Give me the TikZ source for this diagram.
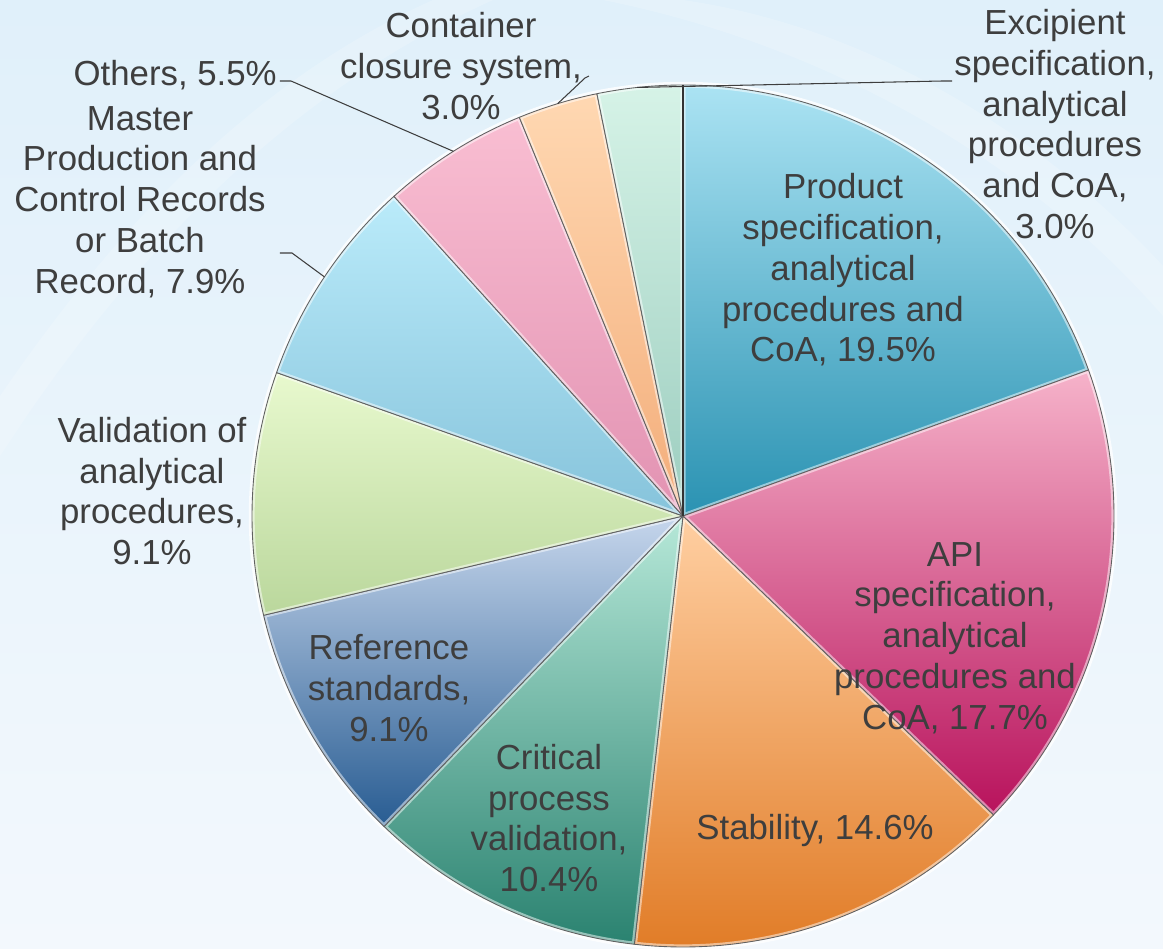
\documentclass[tikz,border=0pt]{standalone}
\usepackage{fontspec}
\setmainfont{Liberation Sans}
\definecolor{txt}{HTML}{3E3E3E}
\definecolor{bgtop}{HTML}{E0F0FA}
\definecolor{bgmid}{HTML}{DDEEFA}
\definecolor{bgbot}{HTML}{F3F8FD}
\definecolor{prodT}{HTML}{ABE3F3}\definecolor{prodB}{HTML}{2A92B2}
\definecolor{apiT}{HTML}{F6B3CA}\definecolor{apiB}{HTML}{B8125C}
\definecolor{stabT}{HTML}{FFCFA2}\definecolor{stabB}{HTML}{E07A24}
\definecolor{critT}{HTML}{B6E8D8}\definecolor{critB}{HTML}{2A8270}
\definecolor{refT}{HTML}{C6D6EC}\definecolor{refB}{HTML}{285C92}
\definecolor{valT}{HTML}{E8F9CE}\definecolor{valB}{HTML}{BAD79C}
\definecolor{mastT}{HTML}{BAEBFA}\definecolor{mastB}{HTML}{86C3DB}
\definecolor{othT}{HTML}{F9BED2}\definecolor{othB}{HTML}{E292B2}
\definecolor{contT}{HTML}{FFD8B2}\definecolor{contB}{HTML}{F3AD7A}
\definecolor{excT}{HTML}{D6F3E7}\definecolor{excB}{HTML}{9CCDBF}
\newcommand{\pieslice}[4]{%
  \shade[top color=#3, bottom color=#4] (0,0) -- (#1:431) arc[start angle=#1, end angle=#2, radius=431] -- cycle;
  \begin{scope}
    \clip (0,0) -- (#1:431) arc[start angle=#1, end angle=#2, radius=431] -- cycle;
    \draw[white, opacity=0.5, line width=3pt] (0,0) -- (#1:431) arc[start angle=#1, end angle=#2, radius=431] -- cycle;
  \end{scope}
  \draw[black!62, line width=0.5pt, line join=round] (0,0) -- (#1:431) arc[start angle=#1, end angle=#2, radius=431] -- cycle;
}
\begin{document}
\begin{tikzpicture}[x=0.02cm,y=0.02cm,
  lbl/.style={font=\fontsize{19.8}{23.2}\selectfont, text=txt, align=center, inner sep=0pt},
  leader/.style={draw=txt, line width=0.6pt}]
\useasboundingbox (-683,-432) rectangle (480,516);
% background
\shade[top color=bgtop, middle color=bgmid, bottom color=bgbot] (-683,-432) rectangle (480,516);
\fill[white, opacity=0.18] (-683,120) .. controls (-560,300) and (-420,440) .. (-250,516) -- (-190,516) .. controls (-380,430) and (-540,280) .. (-683,60) -- cycle;
\fill[white, opacity=0.18] (-80,516) .. controls (150,470) and (350,350) .. (480,200) -- (480,250) .. controls (350,390) and (180,490) .. (0,516) -- cycle;
% outer glow
\draw[white, opacity=0.8, line width=2.5pt] (0,0) circle[radius=432];
% slices
\pieslice{90}{19.8}{prodT}{prodB}
\pieslice{19.8}{-43.92}{apiT}{apiB}
\pieslice{-43.92}{-96.48}{stabT}{stabB}
\pieslice{-96.48}{-133.92}{critT}{critB}
\pieslice{-133.92}{-166.68}{refT}{refB}
\pieslice{-166.68}{-199.44}{valT}{valB}
\pieslice{-199.44}{-227.88}{mastT}{mastB}
\pieslice{-227.88}{-247.68}{othT}{othB}
\pieslice{-247.68}{-258.48}{contT}{contB}
\pieslice{-258.48}{-270}{excT}{excB}
\draw[black!80, line width=0.7pt] (0,0) -- (90:431);
% labels
\node[lbl] (prod) at (160,246) {Product\\specification,\\analytical\\procedures and\\CoA, 19.5\%};
\node[lbl] (exc) at (372,392) {Excipient\\specification,\\analytical\\procedures\\and CoA,\\3.0\%};
\node[lbl] (cont) at (-222,450) {Container\\closure system,\\3.0\%};
\node[lbl, anchor=east] (oth) at (-406,441) {Others, 5.5\%};
\node[lbl] (mast) at (-543,314) {Master\\Production and\\Control Records\\or Batch\\Record, 7.9\%};
\node[lbl] (val) at (-531,25) {Validation of\\analytical\\procedures,\\9.1\%};
\node[lbl] (api) at (272,-122) {API\\specification,\\analytical\\procedures and\\CoA, 17.7\%};
\node[lbl] (ref) at (-294,-172) {Reference\\standards,\\9.1\%};
\node[lbl] (crit) at (-134,-302) {Critical\\process\\validation,\\10.4\%};
\node[lbl] (stab) at (132,-314) {Stability, 14.6\%};
% leaders
\coordinate (othE) at (122.2:431);
\coordinate (mastE) at (146.3:431);
\coordinate (contE) at (106.9:431);
\coordinate (excE) at (96.1:431);
\coordinate (othA) at (-403,435);
\coordinate (othB) at (-392,435);
\coordinate (mastA) at (-403,263);
\coordinate (mastB) at (-391,263);
\coordinate (contA) at (-98,438);
\coordinate (contB) at (-94,440);
\coordinate (excA) at (259,435);
\coordinate (excB) at (269,435);
\draw[leader] (othA) -- (othB) -- (othE);
\draw[leader] (mastA) -- (mastB) -- (mastE);
\draw[leader] (contE) -- (contA) -- (contB);
\draw[leader] (excE) -- (excA) -- (excB);
\end{tikzpicture}
\end{document}
